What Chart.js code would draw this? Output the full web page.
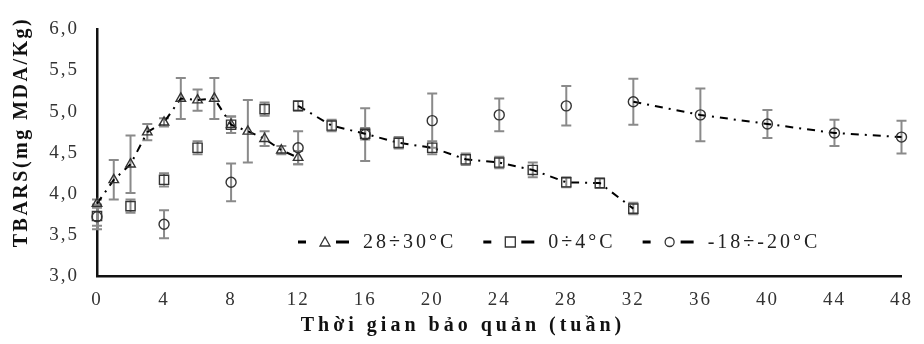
<!DOCTYPE html>
<html>
<head>
<meta charset="utf-8">
<script src="https://cdn.jsdelivr.net/npm/chart.js@4"></script>
<style>
  body { margin: 0; background: #fff; }
  #wrap { width: 924px; height: 344px; }
</style>
</head>
<body>
<div id="wrap"><canvas id="tbarsChart"></canvas></div>
<script>
// Số liệu (tuần, TBARS mg MDA/Kg, sai số)
const weeks1 = [0, 1, 2, 3, 4, 5, 6, 7, 8, 9, 10, 11, 12];
const tbars1 = [3.88, 4.17, 4.36, 4.75, 4.87, 5.16, 5.14, 5.16, 4.84, 4.76, 4.67, 4.53, 4.44];
const err1 = [0.05, 0.24, 0.35, 0.10, 0.05, 0.25, 0.13, 0.25, 0.10, 0.38, 0.09, 0.05, 0.08];

const weeks2 = [0, 2, 4, 6, 8, 10, 12, 14, 16, 18, 20, 22, 24, 26, 28, 30, 32];
const tbars2 = [3.73, 3.85, 4.17, 4.56, 4.84, 5.03, 5.07, 4.83, 4.73, 4.62, 4.56, 4.42, 4.38, 4.29, 4.14, 4.13, 3.82];
const err2 = [0.12, 0.08, 0.08, 0.08, 0.10, 0.08, 0.06, 0.07, 0.07, 0.07, 0.08, 0.07, 0.07, 0.09, 0.06, 0.06, 0.07];

const weeks3 = [0, 4, 8, 12, 16, 20, 24, 28, 32, 36, 40, 44, 48];
const tbars3 = [3.72, 3.63, 4.14, 4.56, 4.72, 4.89, 4.96, 5.07, 5.12, 4.96, 4.85, 4.74, 4.69];
const err3 = [0.15, 0.17, 0.23, 0.20, 0.32, 0.33, 0.20, 0.24, 0.28, 0.32, 0.17, 0.16, 0.20];

const seriesLabels = ['28÷30°C', '0÷4°C', '-18÷-20°C'];
const xTicks = [0, 4, 8, 12, 16, 20, 24, 28, 32, 36, 40, 44, 48];
const yTicks = [3.0, 3.5, 4.0, 4.5, 5.0, 5.5, 6.0];

const serif = '"Liberation Serif", "Times New Roman", serif';
const dashPattern = [8, 6, 2, 6];

function toPoints(xs, ys) {
    return xs.map((x, i) => ({ x: x, y: ys[i] }));
}

// chỉ vẽ đường nối từ tuần này trở đi (như trong hình gốc)
function lineFrom(startWeek) {
    return ctx => ctx.p0.parsed.x < startWeek ? 'rgba(0,0,0,0)' : undefined;
}

const errors = [err1, err2, err3];

// Vẽ thanh sai số
const errorBars = {
    id: 'errorBars',
    beforeDatasetsDraw(chart) {
        const ctx = chart.ctx;
        const yScale = chart.scales.y;
        ctx.save();
        ctx.strokeStyle = '#8a8a8a';
        ctx.lineWidth = 2;
        chart.data.datasets.forEach((ds, di) => {
            const meta = chart.getDatasetMeta(di);
            meta.data.forEach((pt, i) => {
                const v = ds.data[i].y;
                const e = errors[di][i];
                const yTop = yScale.getPixelForValue(v + e);
                const yBot = yScale.getPixelForValue(v - e);
                ctx.beginPath();
                ctx.moveTo(pt.x, yTop);
                ctx.lineTo(pt.x, yBot);
                ctx.moveTo(pt.x - 5, yTop);
                ctx.lineTo(pt.x + 5, yTop);
                ctx.moveTo(pt.x - 5, yBot);
                ctx.lineTo(pt.x + 5, yBot);
                ctx.stroke();
            });
        });
        ctx.restore();
    }
};

// Chú thích và tiêu đề trục
const extras = {
    id: 'extras',
    beforeDraw(chart) {
        chart.ctx.letterSpacing = '2px';
    },
    afterDraw(chart) {
        const ctx = chart.ctx;
        ctx.save();
        ctx.fillStyle = '#111';
        ctx.textBaseline = 'middle';

        // tiêu đề trục x
        ctx.font = 'bold 20px ' + serif;
        ctx.letterSpacing = '4px';
        ctx.textAlign = 'center';
        ctx.fillText('Thời gian bảo quản (tuần)', 463, 326);

        // tiêu đề trục y
        ctx.letterSpacing = '2.5px';
        ctx.save();
        ctx.translate(22, 132);
        ctx.rotate(-Math.PI / 2);
        ctx.fillText('TBARS(mg MDA/Kg)', 0, 0);
        ctx.restore();

        // chú thích
        ctx.font = '20px ' + serif;
        ctx.letterSpacing = '3px';
        ctx.textAlign = 'left';
        const ly = 242;
        let lx = 298;
        chart.data.datasets.forEach((ds) => {
            ctx.strokeStyle = '#000';
            ctx.lineWidth = 3;
            ctx.beginPath();
            ctx.moveTo(lx, ly);
            ctx.lineTo(lx + 8, ly);
            ctx.moveTo(lx + 38, ly);
            ctx.lineTo(lx + 51, ly);
            ctx.stroke();
            ctx.lineWidth = 1.3;
            ctx.strokeStyle = '#333';
            ctx.beginPath();
            const mx = lx + 27;
            if (ds.pointStyle === 'triangle') {
                ctx.moveTo(mx, ly - 5);
                ctx.lineTo(mx + 5, ly + 4);
                ctx.lineTo(mx - 5, ly + 4);
                ctx.closePath();
            } else if (ds.pointStyle === 'rect') {
                ctx.rect(mx - 5, ly - 5, 10, 10);
            } else {
                ctx.arc(mx, ly, 4.5, 0, Math.PI * 2);
            }
            ctx.stroke();
            ctx.fillStyle = '#222';
            ctx.fillText(ds.label, lx + 65, ly + 1);
            lx += 65 + ctx.measureText(ds.label).width + 27;
        });
        ctx.restore();
    }
};

const commonDs = {
    borderColor: '#000',
    borderWidth: 2,
    borderDash: dashPattern,
    pointBackgroundColor: 'rgba(255,255,255,0)',
    pointBorderColor: '#333',
    pointBorderWidth: 1.4,
    fill: false,
    clip: false
};

const ctx = document.getElementById('tbarsChart').getContext('2d');
const chart = new Chart(ctx, {
    type: 'line',
    data: {
        datasets: [
            Object.assign({}, commonDs, {
                label: seriesLabels[0],
                data: toPoints(weeks1, tbars1),
                pointStyle: 'triangle',
                pointRadius: 5.5
            }),
            Object.assign({}, commonDs, {
                label: seriesLabels[1],
                data: toPoints(weeks2, tbars2),
                pointStyle: 'rect',
                pointRadius: 6.5,
                segment: { borderColor: lineFrom(12) }
            }),
            Object.assign({}, commonDs, {
                label: seriesLabels[2],
                data: toPoints(weeks3, tbars3),
                pointStyle: 'circle',
                pointRadius: 5,
                segment: { borderColor: lineFrom(32) }
            })
        ]
    },
    options: {
        responsive: true,
        maintainAspectRatio: false,
        animation: false,
        layout: { padding: { top: 17, right: 14, left: 0, bottom: 0 } },
        plugins: {
            legend: { display: false },
            tooltip: { enabled: false }
        },
        scales: {
            x: {
                type: 'linear',
                min: 0,
                max: 48,
                afterBuildTicks: scale => { scale.ticks = xTicks.map(v => ({ value: v })); },
                afterFit: scale => { scale.height = 68; },
                grid: { display: false, drawTicks: false },
                border: { display: true, color: '#111', width: 2.5 },
                ticks: {
                    color: '#333',
                    padding: 13,
                    maxRotation: 0,
                    font: { family: serif, size: 19 }
                }
            },
            y: {
                min: 3,
                max: 6,
                afterBuildTicks: scale => { scale.ticks = yTicks.map(v => ({ value: v })); },
                afterFit: scale => { scale.width = 97; },
                grid: { display: false, drawTicks: false },
                border: { display: true, color: '#111', width: 2.5 },
                ticks: {
                    color: '#333',
                    padding: 18,
                    font: { family: serif, size: 19 },
                    callback: v => v.toFixed(1).replace('.', ',')
                }
            }
        }
    },
    plugins: [errorBars, extras]
});
</script>
</body>
</html>
